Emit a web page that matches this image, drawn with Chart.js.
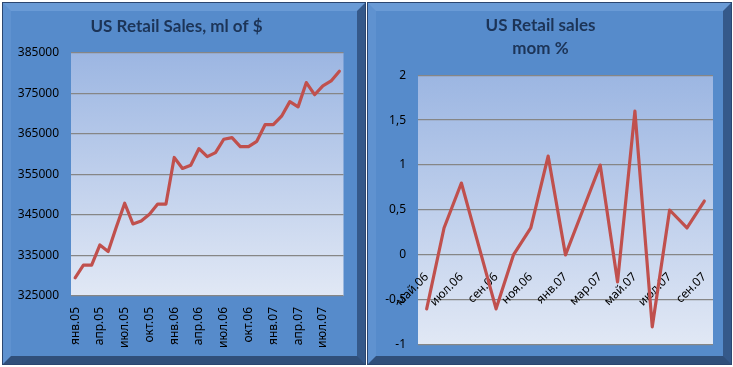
<!DOCTYPE html>
<html>
<head>
<meta charset="utf-8">
<script src="https://cdn.jsdelivr.net/npm/chart.js@4/dist/chart.umd.min.js"></script>
<style>
  html, body { margin: 0; padding: 0; background: #fff; }
  body { width: 733px; height: 367px; position: relative; overflow: hidden; }
  .frame {
    position: absolute; box-sizing: border-box;
    background: #568bcb;
    border: 8px solid;
    border-top-color: #6a9bd6;
    border-left-color: #5f92d0;
    border-right-color: #35598a;
    border-bottom-color: #304f7a;
    box-shadow: 0 0 0 1px #2b4670;
  }
  canvas { position: absolute; }
</style>
</head>
<body>
<div class="frame" style="left:3px;top:3px;width:362px;height:361px"></div>
<div class="frame" style="left:368px;top:3px;width:363px;height:361px"></div>
<canvas id="sales" width="362" height="361" style="left:3px;top:3px;width:362px;height:361px"></canvas>
<canvas id="mom" width="363" height="361" style="left:368px;top:3px;width:363px;height:361px"></canvas>
<script>
// monthly retail sales, ml of $ (янв.05 .. сен.07)
var salesMonths = [
  'янв.05','фев.05','мар.05','апр.05','май.05','июн.05','июл.05','авг.05','сен.05','окт.05','ноя.05','дек.05',
  'янв.06','фев.06','мар.06','апр.06','май.06','июн.06','июл.06','авг.06','сен.06','окт.06','ноя.06','дек.06',
  'янв.07','фев.07','мар.07','апр.07','май.07','июн.07','июл.07','авг.07','сен.07'
];
var salesValues = [
  329500, 332600, 332600, 337600, 336000, 342100, 347900, 342800, 343500, 345200, 347700, 347700,
  359200, 356500, 357300, 361400, 359400, 360400, 363700, 364100, 361900, 361900, 363200, 367300,
  367300, 369400, 373000, 371700, 377700, 374700, 376900, 378100, 380500
];

// month over month change, % (май.06 .. сен.07)
var momMonths = [
  'май.06','июн.06','июл.06','авг.06','сен.06','окт.06','ноя.06','дек.06',
  'янв.07','фев.07','мар.07','апр.07','май.07','июн.07','июл.07','авг.07','сен.07'
];
var momValues = [-0.6, 0.3, 0.8, 0.1, -0.6, 0, 0.3, 1.1, 0, 0.5, 1.0, -0.3, 1.6, -0.8, 0.5, 0.3, 0.6];

var RED = '#c0504d';
var GRID = '#868686';
var TITLE = '#1c3457';
var TICK_FONT = { family: 'Noto Sans', size: 12 };

// gradient fill behind the plot area
var plotBg = {
  id: 'plotBg',
  beforeDraw: function (chart) {
    var a = chart.chartArea, ctx = chart.ctx;
    var g = ctx.createLinearGradient(0, a.top, 0, a.bottom);
    g.addColorStop(0, '#9cb6e2');
    g.addColorStop(1, '#e1e8f5');
    ctx.save();
    ctx.fillStyle = g;
    ctx.fillRect(a.left, a.top, a.right - a.left, a.bottom - a.top);
    ctx.restore();
  }
};

Chart.defaults.font.family = 'Noto Sans';
Chart.defaults.color = '#000';

function lineDataset(values) {
  return {
    data: values,
    borderColor: RED,
    borderWidth: 3.2,
    borderJoinStyle: 'round',
    borderCapStyle: 'round',
    pointRadius: 0,
    tension: 0,
    fill: false
  };
}

new Chart(document.getElementById('sales'), {
  type: 'line',
  data: { labels: salesMonths, datasets: [lineDataset(salesValues)] },
  plugins: [plotBg],
  options: {
    responsive: false,
    animation: false,
    layout: { padding: { left: 0, right: 15, top: 0, bottom: 0 } },
    plugins: {
      legend: { display: false },
      tooltip: { enabled: false },
      title: {
        display: true,
        text: 'US Retail Sales, ml of $',
        color: TITLE,
        font: { family: 'Lato', size: 17, weight: 'bold', lineHeight: 1.2 },
        padding: { top: 13, bottom: 16.6 }
      }
    },
    scales: {
      x: {
        offset: true,
        grid: { display: false, drawTicks: false },
        border: { display: false },
        ticks: {
          autoSkip: false, minRotation: 90, maxRotation: 90, padding: 11,
          font: TICK_FONT, color: '#000',
          callback: function (v, i) { return i % 3 === 0 ? salesMonths[i] : ''; }
        },
        afterFit: function (s) { s.height = 68; }
      },
      y: {
        min: 325000, max: 385000,
        grid: { color: GRID, lineWidth: 1.3, drawTicks: false },
        border: { display: false },
        ticks: {
          stepSize: 10000, padding: 12, font: TICK_FONT, color: '#000',
          callback: function (v) { return String(v); }
        },
        afterFit: function (s) { s.width = 68; }
      }
    }
  }
});

new Chart(document.getElementById('mom'), {
  type: 'line',
  data: { labels: momMonths, datasets: [lineDataset(momValues)] },
  plugins: [plotBg],
  options: {
    responsive: false,
    animation: false,
    layout: { padding: { left: 0, right: 18, top: 0, bottom: 17 } },
    plugins: {
      legend: { display: false },
      tooltip: { enabled: false },
      title: {
        display: true,
        text: ['US Retail sales', 'mom %'],
        color: TITLE,
        font: { family: 'Lato', size: 17, weight: 'bold', lineHeight: 1.35 },
        padding: { top: 11.5, bottom: 14.8 }
      }
    },
    scales: {
      x: {
        position: { y: 0 },
        offset: true,
        grid: { display: false, drawTicks: true, tickLength: 12 },
        border: { display: false },
        ticks: {
          autoSkip: false, minRotation: 45, maxRotation: 45,
          font: TICK_FONT, color: '#000',
          callback: function (v, i) { return i % 2 === 0 ? momMonths[i] : ''; }
        }
      },
      y: {
        min: -1, max: 2,
        grid: { color: GRID, lineWidth: 1.3, drawTicks: false },
        border: { display: false },
        ticks: {
          stepSize: 0.5, padding: 12, font: TICK_FONT, color: '#000',
          callback: function (v) { return String(v).replace('.', ','); }
        },
        afterFit: function (s) { s.width = 50; }
      }
    }
  }
});
</script>
</body>
</html>
